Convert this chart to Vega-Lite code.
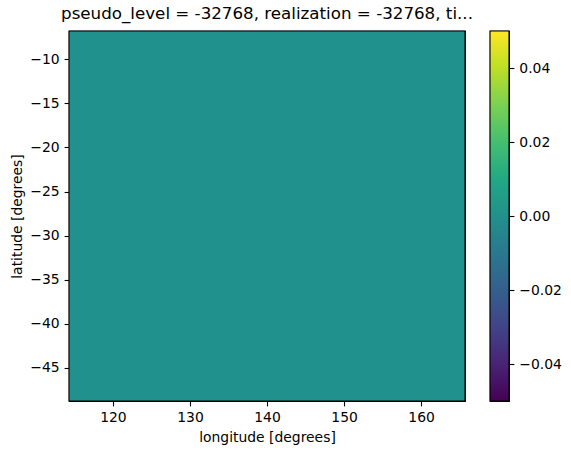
{
  "$schema": "https://vega.github.io/schema/vega-lite/v6.json",
  "padding": {"left": 9, "top": 5, "right": 5, "bottom": 5},
  "background": "white",
  "bounds": "flush",
  "spacing": 25,
  "config": {
    "font": "DejaVu Sans",
    "view": {"stroke": "black", "strokeWidth": 1.1},
    "axis": {
      "domain": false,
      "grid": false,
      "ticks": true,
      "tickColor": "black",
      "tickSize": 4.9,
      "tickWidth": 1.1,
      "labelPadding": 4.9,
      "labelFontSize": 13.9,
      "labelColor": "black",
      "labelFont": "DejaVu Sans",
      "titleFont": "DejaVu Sans",
      "titleFontSize": 13.9,
      "titleFontWeight": "normal",
      "titleColor": "black",
      "titlePadding": 5.6,
      "labelFlush": false,
      "labelOverlap": false
    },
    "title": {"font": "DejaVu Sans", "fontSize": 16.7, "fontWeight": "normal", "color": "black"}
  },
  "hconcat": [
    {
      "width": 396,
      "height": 370,
      "title": {"text": "pseudo_level = -32768, realization = -32768, ti...", "anchor": "middle", "offset": 8},
      "data": {"values": [{"lon0": 114.3, "lon1": 165.7, "lat0": -48.75, "lat1": -6.8, "value": 0}]},
      "mark": {"type": "rect", "stroke": "black", "strokeWidth": 1.1},
      "encoding": {
        "x": {"field": "lon0", "type": "quantitative", "scale": {"domain": [114.3, 165.7], "nice": false, "zero": false},
              "axis": {"title": "longitude [degrees]", "values": [120, 130, 140, 150, 160]}},
        "x2": {"field": "lon1"},
        "y": {"field": "lat0", "type": "quantitative", "scale": {"domain": [-48.75, -6.8], "nice": false, "zero": false},
              "axis": {"title": "latitude [degrees]", "values": [-45, -40, -35, -30, -25, -20, -15, -10]}},
        "y2": {"field": "lat1"},
        "color": {"field": "value", "type": "quantitative", "scale": {"scheme": "viridis", "domain": [-0.05, 0.05]}, "legend": null}
      }
    },
    {
      "width": 19,
      "height": 370,
      "data": {"values": [{"lo": -0.05, "hi": 0.05}]},
      "mark": {
        "type": "rect",
        "stroke": "black",
        "strokeWidth": 1.1,
        "fill": {
          "gradient": "linear", "x1": 0, "y1": 1, "x2": 0, "y2": 0,
          "stops": [
            {"offset": 0.0, "color": "#440154"},
            {"offset": 0.1, "color": "#482475"},
            {"offset": 0.2, "color": "#414487"},
            {"offset": 0.3, "color": "#355f8d"},
            {"offset": 0.4, "color": "#2a788e"},
            {"offset": 0.5, "color": "#21918c"},
            {"offset": 0.6, "color": "#22a884"},
            {"offset": 0.7, "color": "#44bf70"},
            {"offset": 0.8, "color": "#7ad151"},
            {"offset": 0.9, "color": "#bddf26"},
            {"offset": 1.0, "color": "#fde725"}
          ]
        }
      },
      "encoding": {
        "x": {"datum": 0, "type": "quantitative", "scale": {"domain": [0, 1], "nice": false}, "axis": null},
        "x2": {"datum": 1},
        "y": {"field": "lo", "type": "quantitative", "scale": {"domain": [-0.05, 0.05], "nice": false, "zero": false},
              "axis": {"orient": "right", "title": null, "values": [-0.04, -0.02, 0, 0.02, 0.04], "format": ".2f"}},
        "y2": {"field": "hi"}
      }
    }
  ]
}
